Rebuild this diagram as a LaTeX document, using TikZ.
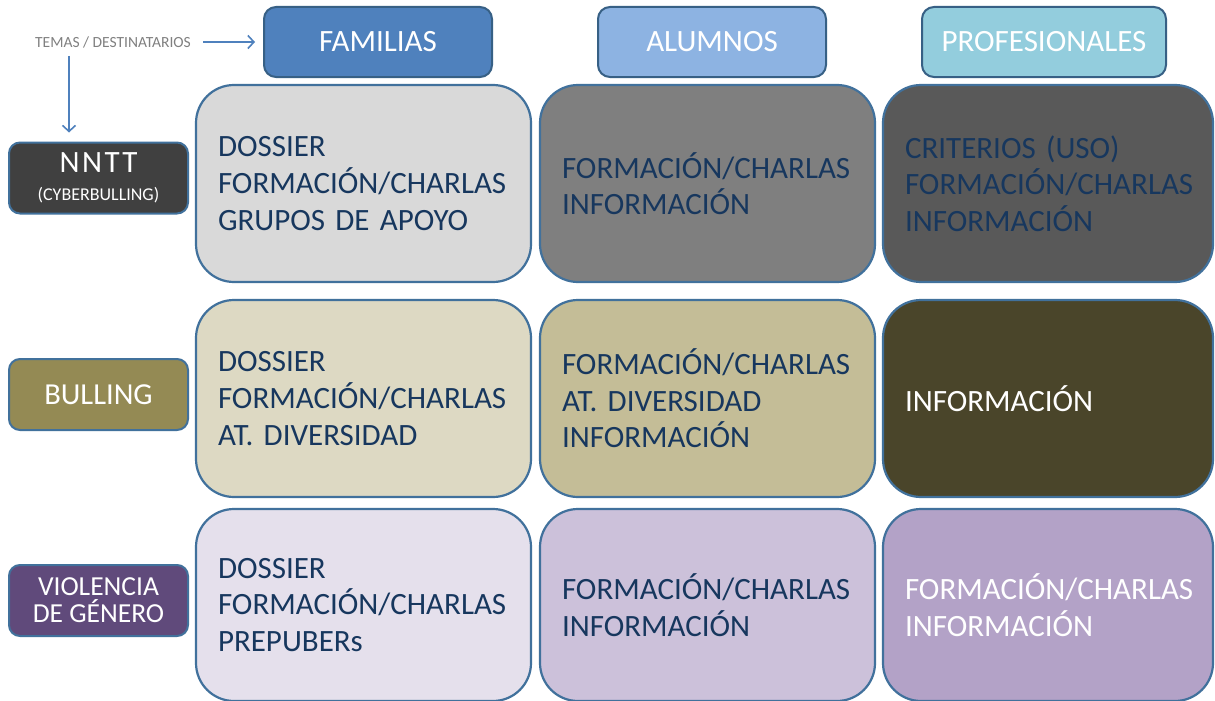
\documentclass[tikz,border=0pt]{standalone}
\usepackage{fontspec}
\setmainfont{Carlito}
\usetikzlibrary{arrows.meta}
\definecolor{bordercol}{HTML}{41719C}
\definecolor{navy}{HTML}{17375E}
\definecolor{hfam}{HTML}{4F81BD}
\definecolor{halu}{HTML}{8DB3E2}
\definecolor{hpro}{HTML}{93CDDD}
\definecolor{lnntt}{HTML}{404040}
\definecolor{lbul}{HTML}{948A54}
\definecolor{lvio}{HTML}{604A7B}
\definecolor{cA}{HTML}{D9D9D9}
\definecolor{cB}{HTML}{7F7F7F}
\definecolor{cC}{HTML}{595959}
\definecolor{cD}{HTML}{DDD9C3}
\definecolor{cE}{HTML}{C4BD97}
\definecolor{cF}{HTML}{4A452A}
\definecolor{cG}{HTML}{E5E0EC}
\definecolor{cH}{HTML}{CCC1DA}
\definecolor{cI}{HTML}{B3A2C7}
\definecolor{arrcol}{HTML}{4F81BD}
\definecolor{temagray}{HTML}{808080}
\tikzset{
  cellbox/.style={draw=bordercol, line width=2.2pt, rounded corners=38pt,
    inner xsep=22pt, text width=#1, align=left,
    font=\fontsize{31}{36.6}\selectfont},
  headbox/.style={draw=bordercol!85!black, line width=2pt, rounded corners=12pt,
    minimum height=70pt, text=white, font=\fontsize{31}{34}\selectfont},
  rowbox/.style={draw=bordercol, line width=2pt, rounded corners=11pt,
    minimum width=179pt, minimum height=71pt, text=white, align=center},
  arr/.style={draw=arrcol, line width=1.3pt,
    -{Straight Barb[length=6pt,width=13pt,line width=1.6pt]}}
}
\begin{document}
\begin{tikzpicture}[x=1pt,y=-1pt]
\useasboundingbox[fill=white] (0,0) rectangle (1215,701);
% headers
\node[headbox, fill=hfam, minimum width=228pt] (fam) at (378,42) {FAMILIAS};
\node[headbox, fill=halu, minimum width=228pt] (alu) at (712,42) {ALUMNOS};
\node[headbox, fill=hpro, minimum width=244pt] (pro) at (1044,42) {PROFESIONALES};
% row labels
\node[rowbox, fill=lnntt, font=\fontsize{31}{31}\selectfont] (nntt) at (98.5,178) {N\kern2.5ptN\kern2.5ptT\kern2.5ptT\\[-3pt]{\fontsize{18}{20}\selectfont (CYBERBULLING)}};
\node[rowbox, fill=lbul, font=\fontsize{30.5}{32}\selectfont] (bul) at (98.5,394.5) {BULLING};
\node[rowbox, fill=lvio, font=\fontsize{27.5}{31}\selectfont] (vio) at (98.5,600.5) {VIOLENCIA\\[-4pt]DE GÉNERO};
% title and arrows
\node[text=temagray, font=\fontsize{15.5}{18}\selectfont, inner sep=0pt] (tema) at (113,42) {TEMAS / DESTINATARIOS};
\coordinate (vstart) at (69,56);
\draw[arr, shorten <=12pt, shorten >=8pt] (tema.east) -- (fam.west);
\draw[arr, shorten >=9pt] (vstart) -- (nntt.north -| vstart);
% cells row 1
\node[cellbox=291pt, fill=cA, text=navy, minimum height=197pt] (c11) at (363.5,183.5) {DOSSIER\\FORMACIÓN/CHARLAS\\GRUPOS DE APOYO};
\node[cellbox=291pt, fill=cB, text=navy, minimum height=197pt] (c12) at (707.5,183.5) {FORMACIÓN/CHARLAS\\INFORMACIÓN};
\node[cellbox=286pt, fill=cC, text=navy, minimum height=197pt] (c13) at (1048,183.5) {CRITERIOS (USO)\\FORMACIÓN/CHARLAS\\INFORMACIÓN};
% row 2
\node[cellbox=291pt, fill=cD, text=navy, minimum height=197pt] (c21) at (363.5,398.5) {DOSSIER\\FORMACIÓN/CHARLAS\\AT. DIVERSIDAD};
\node[cellbox=291pt, fill=cE, text=navy, minimum height=197pt] (c22) at (707.5,398.5) {FORMACIÓN/CHARLAS\\AT. DIVERSIDAD\\INFORMACIÓN};
\node[cellbox=286pt, fill=cF, text=white, minimum height=197pt] (c23) at (1048,398.5) {INFORMACIÓN};
% row 3
\node[cellbox=291pt, fill=cG, text=navy, minimum height=192pt] (c31) at (363.5,605) {DOSSIER\\FORMACIÓN/CHARLAS\\PREPUBERs};
\node[cellbox=291pt, fill=cH, text=navy, minimum height=192pt] (c32) at (707.5,605) {FORMACIÓN/CHARLAS\\INFORMACIÓN};
\node[cellbox=286pt, fill=cI, text=white, minimum height=192pt] (c33) at (1048,605) {FORMACIÓN/CHARLAS\\INFORMACIÓN};
\end{tikzpicture}
\end{document}
